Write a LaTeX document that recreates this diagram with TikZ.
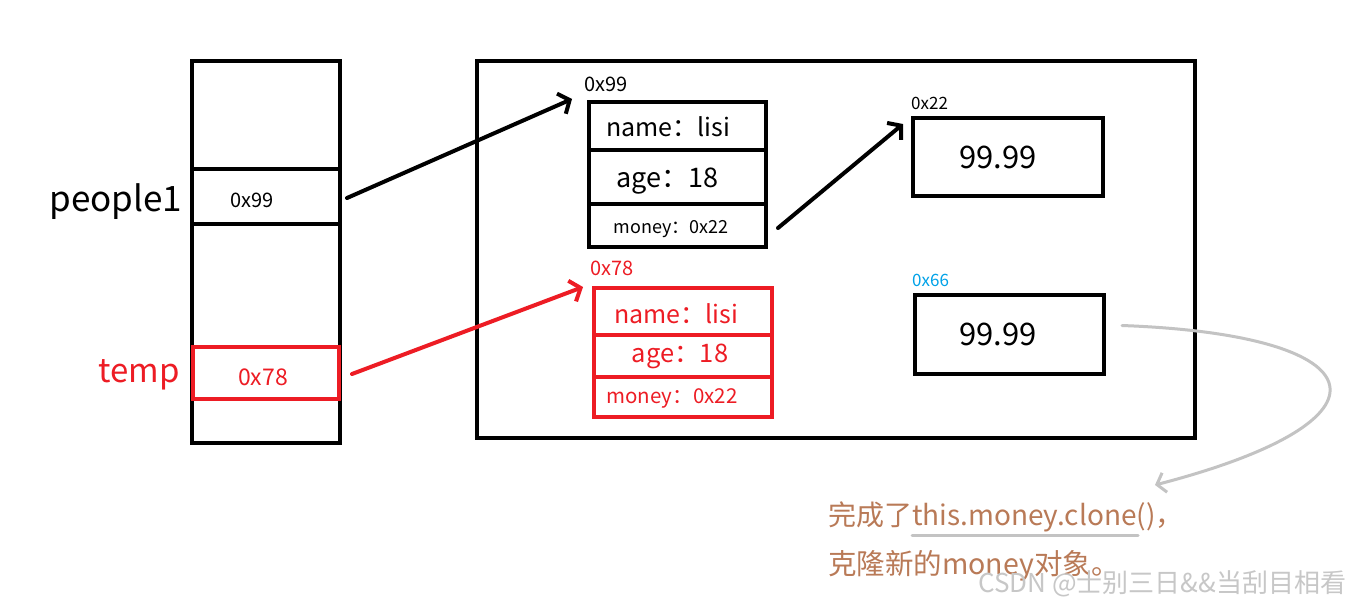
\documentclass[tikz,border=0pt]{standalone}
\usepackage{fontspec}
\setmainfont{Noto Sans CJK SC}
\usetikzlibrary{arrows.meta}
\definecolor{pred}{HTML}{ED1C24}
\definecolor{pblue}{HTML}{00A2E8}
\definecolor{pbrown}{HTML}{B97A57}
\definecolor{pgray}{HTML}{C3C3C3}
\newcommand\myfs[1]{\fontsize{#1}{#1}\selectfont}
\begin{document}
\begin{tikzpicture}[x=1pt,y=-1pt,
  box/.style={draw,line width=4pt,anchor=north west,inner sep=0pt,outer sep=0pt},
  redbox/.style={box,draw=pred},
  txt/.style={inner sep=0pt},
  lbl/.style={inner sep=0pt,anchor=west},
  arr/.style={line width=4pt,line cap=round,-{Straight Barb[length=9pt,width=22pt]}},
  garr/.style={draw=pgray,line width=3pt,line cap=round,-{Straight Barb[length=8pt,width=20pt]}}
]
\fill[white] (0,0) rectangle (1349,608);
\useasboundingbox (0,0) rectangle (1349,608);

% stack
\node[box,minimum width=148pt,minimum height=382pt] (stack) at (192,61) {};
\node[box,minimum width=148pt,minimum height=55pt] (p1cell) at (192,169) {};
\node[redbox,minimum width=146pt,minimum height=52pt] (tcell) at (193,347) {};
\node[txt,font=\myfs{35}] (p1lbl) at (116,202) {people1};
\node[txt,font=\myfs{20}] (p1val) at (252,200) {0x99};
\node[txt,font=\myfs{33},text=pred] (tlbl) at (139,375) {temp};
\node[txt,font=\myfs{23},text=pred] (tval) at (263,377) {0x78};

% heap
\node[box,minimum width=718pt,minimum height=377pt] (heap) at (477,61) {};

% object 1
\node[box,minimum width=177pt,minimum height=48pt] (o1a) at (589,102) {};
\node[box,minimum width=177pt,minimum height=54pt] (o1b) at (589,150) {};
\node[box,minimum width=177pt,minimum height=43pt] (o1c) at (589,204) {};
\node[txt,font=\myfs{25}] (o1at) at (668,127) {name：lisi};
\node[txt,font=\myfs{27}] (o1bt) at (667,181) {age：18};
\node[txt,font=\myfs{18}] (o1ct) at (671,229) {money：0x22};
\node[lbl,font=\myfs{20}] (o1lbl) at (584,84) {0x99};

% object 2
\node[redbox,minimum width=178pt,minimum height=47pt] (o2a) at (594,288) {};
\node[redbox,minimum width=178pt,minimum height=42pt] (o2b) at (594,335) {};
\node[redbox,minimum width=178pt,minimum height=40pt] (o2c) at (594,377) {};
\node[txt,font=\myfs{25},text=pred] (o2at) at (676,314) {name：lisi};
\node[txt,font=\myfs{25.5},text=pred] (o2bt) at (680,356) {age：18};
\node[txt,font=\myfs{20.5},text=pred] (o2ct) at (672,398) {money：0x22};
\node[lbl,font=\myfs{20},text=pred] (o2lbl) at (590,268) {0x78};

% money objects
\node[box,minimum width=190pt,minimum height=78pt] (m1) at (913,118) {};
\node[txt,font=\myfs{31}] (m1t) at (998,157) {99.99};
\node[lbl,font=\myfs{17}] (m1lbl) at (911,103) {0x22};
\node[box,minimum width=189pt,minimum height=79pt] (m2) at (915,295) {};
\node[txt,font=\myfs{31}] (m2t) at (998,334) {99.99};
\node[lbl,font=\myfs{17},text=pblue] (m2lbl) at (912,280) {0x66};

% connectors
\draw[arr] ([xshift=7pt,yshift=-1.5pt]p1cell.east) -- ([xshift=-17pt,yshift=3pt]o1a.north west);
\draw[arr,draw=pred] ([xshift=13pt,yshift=-1pt]tcell.east) -- ([xshift=-11pt,yshift=1pt]o2a.north west);
\draw[arr] ([xshift=12pt,yshift=-2.5pt]o1c.east) -- ([xshift=-10pt,yshift=-6pt]m1.north west);

% annotation
\node[lbl,font=\myfs{28},text=pbrown] (ann1) at (828,517) {完成了this.money.clone()，};
\node[lbl,font=\myfs{28.5},text=pbrown] (ann2) at (828,566) {克隆新的money对象。};
\draw[pgray,line width=3pt,line cap=round] (912,535) -- (1138,535);
\coordinate (cEnd) at (1155,485);
\draw[garr] ([xshift=18pt,yshift=9pt]m2.east) .. controls (1380,335) and (1405,420) .. (cEnd);

% watermark
\node[lbl,font=\myfs{26},text=black!22] (wm) at (978,584) {CSDN @士别三日\&\&当刮目相看};
\end{tikzpicture}
\end{document}
